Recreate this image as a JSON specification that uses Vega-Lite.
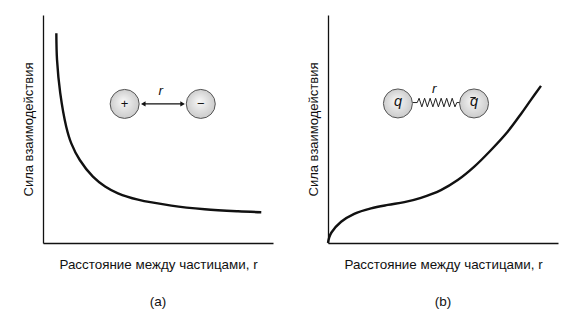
{
  "$schema": "https://vega.github.io/schema/vega-lite/v6.json",
  "background": "white",
  "padding": {"left": 22, "top": 15, "right": 5, "bottom": 0},
  "config": {
    "font": "Liberation Sans",
    "view": {"stroke": null},
    "axis": {"grid": false, "ticks": false, "labels": false, "domainColor": "#111", "domainWidth": 1.3, "titleFont": "Liberation Sans", "titleFontSize": 13, "titleFontWeight": "normal", "titleColor": "#111"},
    "axisX": {"titlePadding": 14, "titleFontSize": 13.4},
    "axisY": {"titlePadding": 8},
    "title": {"font": "Liberation Sans", "fontSize": 13.5, "fontWeight": "normal", "orient": "bottom", "offset": 25, "color": "#111"},
    "concat": {"spacing": 34}
  },
  "datasets": {
    "curveA": [
      {"x": 5.8, "y": 92.0}, {"x": 6.1, "y": 80.3}, {"x": 7.5, "y": 65.7}, {"x": 10.1, "y": 51.0},
      {"x": 12.3, "y": 43.7}, {"x": 16.0, "y": 36.4}, {"x": 21.7, "y": 29.1}, {"x": 27.0, "y": 24.8},
      {"x": 32.6, "y": 21.8}, {"x": 41.3, "y": 19.0}, {"x": 55.8, "y": 16.4}, {"x": 70.3, "y": 14.8},
      {"x": 84.8, "y": 13.9}, {"x": 94.9, "y": 13.5}
    ],
    "curveB": [
      {"x": 0, "y": 0}, {"x": 0.5, "y": 2.4}, {"x": 1.5, "y": 4.6}, {"x": 5.7, "y": 9.3}, {"x": 11.4, "y": 12.8},
      {"x": 18.7, "y": 15.2}, {"x": 26.0, "y": 16.7}, {"x": 33.2, "y": 17.9}, {"x": 40.4, "y": 19.8},
      {"x": 49.1, "y": 23.2}, {"x": 56.4, "y": 27.6}, {"x": 63.6, "y": 33.5}, {"x": 70.9, "y": 40.8},
      {"x": 78.1, "y": 48.8}, {"x": 83.9, "y": 56.6}, {"x": 88.3, "y": 62.9}, {"x": 92.6, "y": 68.9}
    ],
    "circlesA": [{"x": 35.5, "y": 61.0, "label": "+"}, {"x": 68.6, "y": 61.0, "label": "−"}],
    "circlesB": [{"x": 30.4, "y": 61.2, "label": "q"}, {"x": 63.5, "y": 61.2, "label": "q"}],
    "arrowA": [{"x": 43.8, "x2": 60.5, "y": 61.0}],
    "headsA": [{"x": 43.6, "y": 61.0, "head": "triangle-left"}, {"x": 60.7, "y": 61.0, "head": "triangle-right"}],
    "rA": [{"x": 51.2, "y": 66.8, "label": "r"}],
    "rB": [{"x": 46.2, "y": 67.6, "label": "r"}],
    "bar": [{"x": 61.9, "x2": 64.3, "y": 63.8}],
    "spring": [
      {"x": 36.7, "y": 61.6}, {"x": 38.8, "y": 61.6}, {"x": 39.6, "y": 63.5}, {"x": 40.8, "y": 59.7},
      {"x": 42.0, "y": 63.5}, {"x": 43.2, "y": 59.7}, {"x": 44.4, "y": 63.5}, {"x": 45.6, "y": 59.7},
      {"x": 46.8, "y": 63.5}, {"x": 48.0, "y": 59.7}, {"x": 49.2, "y": 63.5}, {"x": 50.4, "y": 59.7},
      {"x": 51.6, "y": 63.5}, {"x": 52.8, "y": 59.7}, {"x": 54.0, "y": 63.5}, {"x": 55.2, "y": 59.7},
      {"x": 56.0, "y": 61.6}, {"x": 57.4, "y": 61.6}
    ]
  },
  "hconcat": [
    {
      "width": 230,
      "height": 228,
      "title": {"text": "(a)"},
      "encoding": {
        "x": {"field": "x", "type": "quantitative", "scale": {"domain": [0, 100], "nice": false}, "axis": {"title": "Расстояние между частицами, r"}},
        "y": {"field": "y", "type": "quantitative", "scale": {"domain": [0, 100], "nice": false}, "axis": {"title": "Сила взаимодействия"}}
      },
      "layer": [
        {"data": {"name": "curveA"}, "mark": {"type": "line", "interpolate": "catmull-rom", "color": "#111", "strokeWidth": 2.4}},
        {"data": {"name": "arrowA"}, "mark": {"type": "rule", "color": "#111", "strokeWidth": 1.2}, "encoding": {"x2": {"field": "x2"}}},
        {"data": {"name": "headsA"}, "mark": {"type": "point", "filled": true, "color": "#111", "size": 28, "opacity": 1}, "encoding": {"shape": {"field": "head", "type": "nominal", "scale": null}}},
        {"data": {"name": "circlesA"}, "mark": {"type": "circle", "size": 841, "opacity": 1, "stroke": "#555", "strokeWidth": 1, "fill": {"gradient": "radial", "x1": 0.45, "y1": 0.4, "r1": 0, "x2": 0.5, "y2": 0.5, "r2": 0.55, "stops": [{"offset": 0, "color": "#f8f8f8"}, {"offset": 1, "color": "#c8c8c8"}]}}},
        {"data": {"name": "circlesA"}, "mark": {"type": "text", "fontSize": 13, "color": "#111", "baseline": "middle", "align": "center"}, "encoding": {"text": {"field": "label"}}},
        {"data": {"name": "rA"}, "mark": {"type": "text", "fontSize": 13.5, "fontStyle": "italic", "color": "#111", "baseline": "middle", "align": "center"}, "encoding": {"text": {"field": "label"}}}
      ]
    },
    {
      "width": 230,
      "height": 228,
      "title": {"text": "(b)"},
      "encoding": {
        "x": {"field": "x", "type": "quantitative", "scale": {"domain": [0, 100], "nice": false}, "axis": {"title": "Расстояние между частицами, r"}},
        "y": {"field": "y", "type": "quantitative", "scale": {"domain": [0, 100], "nice": false}, "axis": {"title": "Сила взаимодействия"}}
      },
      "layer": [
        {"data": {"name": "curveB"}, "mark": {"type": "line", "interpolate": "catmull-rom", "color": "#111", "strokeWidth": 2.4}},
        {"data": {"name": "spring"}, "mark": {"type": "line", "color": "#222", "strokeWidth": 1}},
        {"data": {"name": "circlesB"}, "mark": {"type": "circle", "size": 841, "opacity": 1, "stroke": "#555", "strokeWidth": 1, "fill": {"gradient": "radial", "x1": 0.45, "y1": 0.4, "r1": 0, "x2": 0.5, "y2": 0.5, "r2": 0.55, "stops": [{"offset": 0, "color": "#f8f8f8"}, {"offset": 1, "color": "#c8c8c8"}]}}},
        {"data": {"name": "circlesB"}, "mark": {"type": "text", "fontSize": 14.5, "fontStyle": "italic", "color": "#111", "baseline": "middle", "align": "center", "dy": -1}, "encoding": {"text": {"field": "label"}}},
        {"data": {"name": "bar"}, "mark": {"type": "rule", "color": "#111", "strokeWidth": 1}, "encoding": {"x2": {"field": "x2"}}},
        {"data": {"name": "rB"}, "mark": {"type": "text", "fontSize": 13.5, "fontStyle": "italic", "color": "#111", "baseline": "middle", "align": "center"}, "encoding": {"text": {"field": "label"}}}
      ]
    }
  ]
}
